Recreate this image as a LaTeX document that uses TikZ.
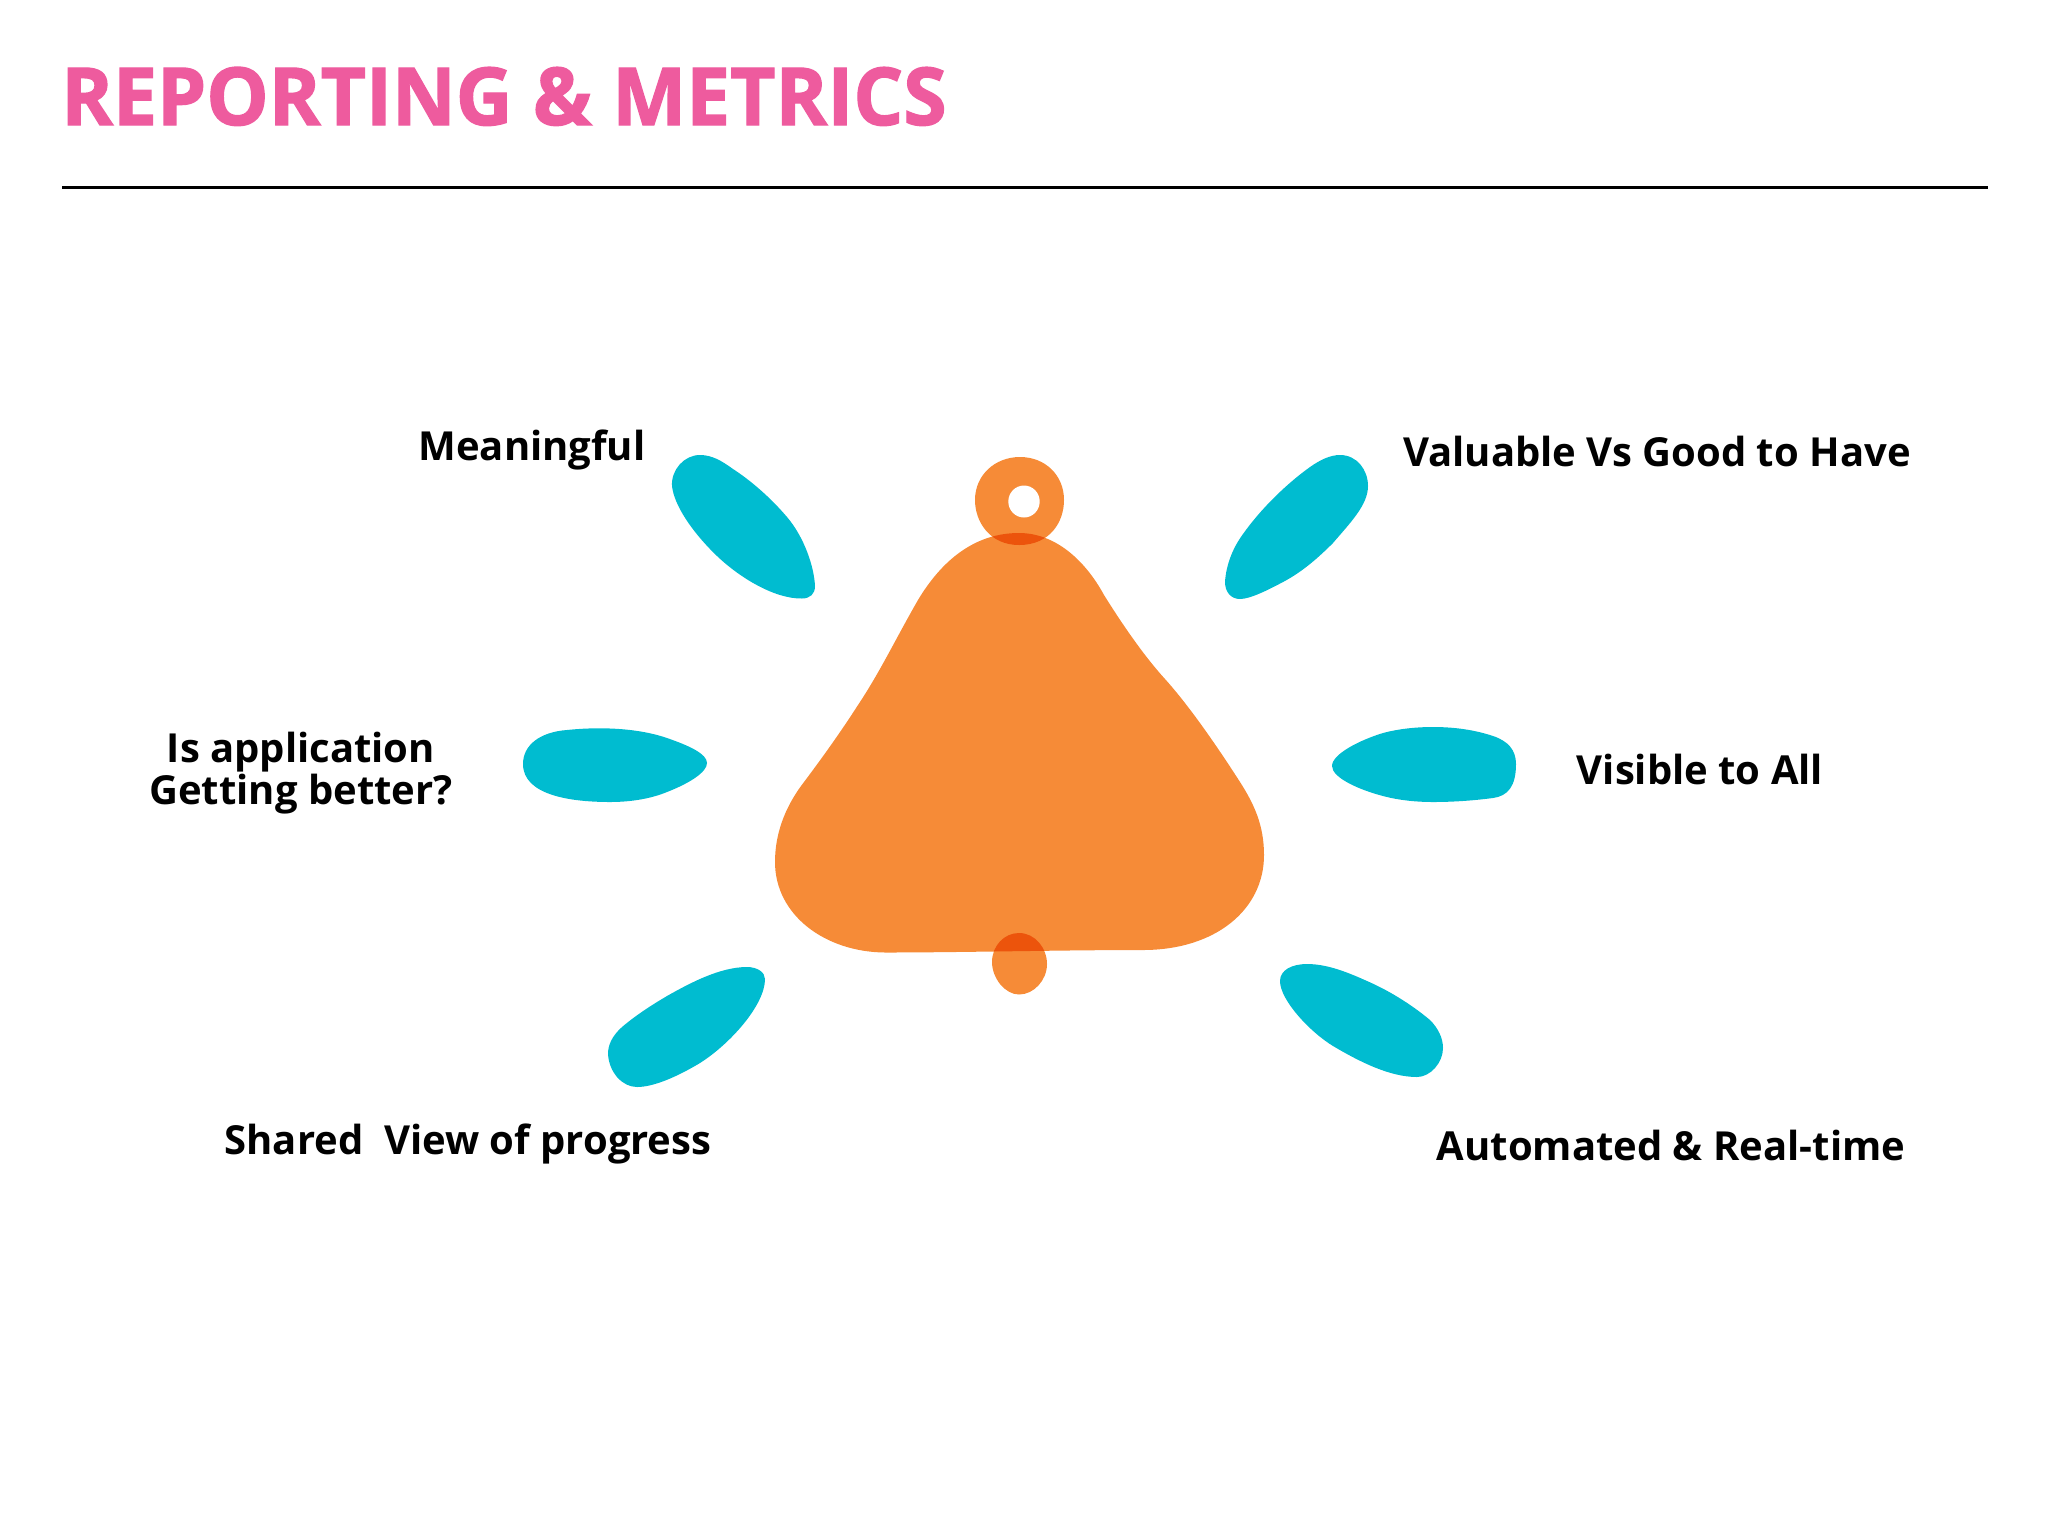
\documentclass[tikz,border=0pt]{standalone}
\usepackage{fontspec}
\setmainfont{Open Sans}
\newfontfamily\titlefont[BoldFeatures={FakeBold=1.6,FakeStretch=0.981}]{Open Sans}
\definecolor{titlepink}{RGB}{238,91,158}
\definecolor{bellorange}{RGB}{246,139,55}
\definecolor{belloverlap}{RGB}{236,84,12}
\definecolor{rayteal}{RGB}{0,188,208}
\def\bellbody{(1019,533) .. controls (975,533) and (942,560) .. (918,600) .. controls (895,640) and (880,672) .. (858,705) .. controls (840,733) and (822,758) .. (804,782) .. controls (784,808) and (775,835) .. (775,862) .. controls (775,915) and (825,952) .. (885,952.5) .. controls (960,952.5) and (1060,950) .. (1143,950) .. controls (1215,950) and (1264,910) .. (1264,855) .. controls (1264,825) and (1254,804) .. (1240,782) .. controls (1222,754) and (1192,709) .. (1165,679) .. controls (1145,657) and (1124,627) .. (1104,595) .. controls (1085,560) and (1055,533) .. (1019,533) -- cycle}
\def\bellring{(1020,457) .. controls (1045,457) and (1064,475) .. (1064,500) .. controls (1064,522) and (1050,545) .. (1019,545) .. controls (990,545) and (975,522) .. (975,500) .. controls (975,475) and (995,457) .. (1020,457) -- cycle}
\def\bellclapper{(1019,933) .. controls (1035,933) and (1047,948) .. (1047,964) .. controls (1047,980) and (1034,994.5) .. (1019,994.5) .. controls (1005,994.5) and (992,978) .. (992,962) .. controls (992,946) and (1004,933) .. (1019,933) -- cycle}
\tikzset{
  raylabel/.style={font=\bfseries\fontsize{30}{32}\selectfont,text=black,align=center,inner sep=0pt},
  ray/.style={fill=rayteal,draw=none},
  bellpart/.style={fill=bellorange,draw=none},
  belldark/.style={fill=belloverlap,draw=none}
}
\begin{document}
\begin{tikzpicture}[x=0.75pt,y=0.75pt,yscale=-1,xscale=1]
\useasboundingbox (0,0) rectangle (2048,1536);

%Title
\node [anchor=base west,inner sep=0pt,text=titlepink,font=\titlefont\bfseries\fontsize{60}{60}\selectfont] (title) at (61,125) {REPORTING \& METRICS};
%Straight Lines
\coordinate (ruleL) at (62,187.5);
\coordinate (ruleR) at (1988,187.5);
\draw [line width=2.2pt] (ruleL) -- (ruleR);

%Shape: Bell
\fill [bellpart] \bellbody;
\fill [bellpart] \bellring;
\fill [bellpart] \bellclapper;
\begin{scope}
\clip \bellbody;
\fill [belldark] \bellring;
\fill [belldark] \bellclapper;
\end{scope}
\fill [white] (1024,501.5) ellipse [x radius=15.7,y radius=16];

%Shape: Rays
\fill [ray] (700,455) .. controls (684,455) and (671,470) .. (672,486) .. controls (674,505) and (692,532) .. (717,556) .. controls (740,578) and (775,599) .. (802,598.5) .. controls (810,598.5) and (815,594) .. (815,586) .. controls (814,566) and (804,537) .. (787,517) .. controls (770,497) and (750,480) .. (733,469) .. controls (722,461) and (712,455) .. (700,455) -- cycle;
\fill [ray] (523,764) .. controls (523,745) and (540,732) .. (567,730) .. controls (595,727) and (635,727) .. (667,738) .. controls (690,746) and (707,754) .. (707,763) .. controls (707,772) and (690,783) .. (667,792) .. controls (650,799) and (630,802) .. (610,802) .. controls (570,802) and (523,795) .. (523,764) -- cycle;
\fill [ray] (747,967) .. controls (720,967) and (690,983) .. (667,996) .. controls (650,1006) and (635,1016) .. (622,1027) .. controls (612,1036) and (608,1045) .. (608,1054) .. controls (609,1072) and (622,1087) .. (637,1087) .. controls (655,1087) and (680,1075) .. (700,1063) .. controls (730,1044) and (765,1005) .. (765,979) .. controls (765,972) and (757,967) .. (747,967) -- cycle;
\fill [ray] (1340,455) .. controls (1357,455) and (1368,470) .. (1368,486) .. controls (1368,505) and (1350,523) .. (1333,543) .. controls (1315,561) and (1300,573) .. (1283,582) .. controls (1268,590) and (1250,599) .. (1240,599) .. controls (1231,599) and (1225,592) .. (1225,582) .. controls (1226,566) and (1232,549) .. (1243,534) .. controls (1260,510) and (1285,485) .. (1310,467) .. controls (1320,460) and (1330,455) .. (1340,455) -- cycle;
\fill [ray] (1516,764) .. controls (1516,786) and (1508,796) .. (1493,798) .. controls (1470,801) and (1450,802) .. (1433,802) .. controls (1415,802) and (1398,800) .. (1383,796) .. controls (1360,790) and (1332,778) .. (1332,766) .. controls (1332,754) and (1360,740) .. (1383,733) .. controls (1398,729) and (1415,727) .. (1433,727) .. controls (1455,727) and (1475,730) .. (1493,736) .. controls (1508,741) and (1516,750) .. (1516,764) -- cycle;
\fill [ray] (1307,964) .. controls (1327,964) and (1347,972) .. (1367,981) .. controls (1390,991) and (1412,1005) .. (1430,1020) .. controls (1438,1028) and (1443,1038) .. (1443,1048) .. controls (1443,1063) and (1430,1077) .. (1417,1077) .. controls (1390,1077) and (1360,1062) .. (1333,1046) .. controls (1310,1032) and (1280,1000) .. (1280,981) .. controls (1280,970) and (1292,964) .. (1307,964) -- cycle;

%Labels
\node [raylabel] (meaningful) at (532,450) {Meaningful};
\node [raylabel] (valuable) at (1657,451) {Valuable Vs Good to Have};
\node [raylabel] (application) at (301,773) {Is application\\Getting better?};
\node [raylabel] (visible) at (1700,769) {Visible to All};
\node [raylabel] (shared) at (468,1144) {Shared\ \ View of progress};
\node [raylabel] (automated) at (1671,1145) {Automated \& Real-time};

\end{tikzpicture}
\end{document}
